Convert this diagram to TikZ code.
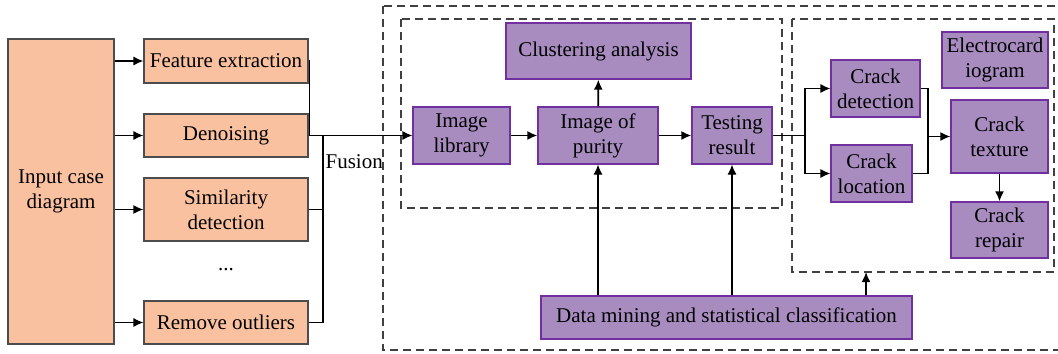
\documentclass[tikz,border=0pt]{standalone}
\usepackage{fontspec}
\setmainfont{Liberation Serif}
\usepackage{tikz}
\usepackage{xcolor}
\usetikzlibrary{arrows.meta}

\definecolor{peach}{RGB}{250,193,160}
\definecolor{lilac}{RGB}{168,140,192}
\definecolor{plum}{RGB}{112,48,160}

\tikzset{
  stage/.style={draw=black!70, fill=peach, line width=0.6pt, align=center, inner sep=1pt},
  proc/.style={draw=plum, fill=lilac, line width=0.6pt, align=center, inner sep=1pt},
  frame/.style={draw=black!75, dash pattern=on 4pt off 2.5pt, line width=0.6pt},
}

\begin{document}
\begin{tikzpicture}[>={Latex[length=5pt, width=4.5pt]}, x=0.5pt, y=-0.5pt, line width=0.6pt,
                    font=\fontsize{10.5}{12.5}\selectfont]
                    \useasboundingbox (0,0) rectangle (1058,353);
                    \clip (0,0) rectangle (1058,353);

                    % left part
                    \node[stage, minimum width=53pt, minimum height=152.5pt] (input) at (61,191.5) {Input case\\diagram};
                    \node[stage, minimum width=82pt, minimum height=22pt] (feat) at (226,61) {Feature extraction};
                    \node[stage, minimum width=82pt, minimum height=21.5pt] (denoise) at (226,135.5) {Denoising};
                    \node[stage, minimum width=82pt, minimum height=31.5pt] (simil) at (226,209.5) {Similarity\\detection};
                    \node (dots) at (226,270) {...};
                    \node[stage, minimum width=82pt, minimum height=21.5pt] (remove) at (226,322.5) {Remove outliers};

                    \draw[->] (input.east |- feat) -- (feat);
                    \draw[->] (input.east |- denoise) -- (denoise);
                    \draw[->, line width=0.8pt] (input.east |- simil) -- (simil);
                    \draw[->] (input.east |- remove) -- (remove);

                    \coordinate (fus) at (323,135.5);
                    \draw (feat.east) -- ++(1,0) |- (denoise.east);
                    \draw (simil.east) -| (fus);
                    \draw (remove.east) -| (fus);
                    \node[anchor=west, inner sep=0pt] (fuslbl) at (325,162) {Fusion};

                    % dashed frames
                    \draw[frame] (383,6) rectangle (1064,350);
                    \draw[frame] (401,19) rectangle (782,208);
                    \draw[frame] (792,19) rectangle (1054,272);
                    \coordinate (rboxbot) at (866,272);

                    % middle part
                    \node[proc, minimum width=92.5pt, minimum height=28pt] (cluster) at (598.5,51) {Clustering analysis};
                    \node[proc, minimum width=48.5pt, minimum height=28.5pt] (imglib) at (461.5,135.5) {Image\\library};
                    \node[proc, minimum width=60pt, minimum height=28.5pt] (purity) at (598,135.5) {Image of\\purity};
                    \node[proc, minimum width=40pt, minimum height=28.5pt] (testing) at (732,135.5) {Testing\\result};
                    \node[proc, minimum width=185.5pt, minimum height=21.5pt] (datamin) at (726.5,317.5) {Data mining and statistical classification};

                    \draw[->] (denoise.east) -- (imglib.west);
                    \draw[->, line width=0.9pt] (imglib) -- (purity);
                    \draw[->, line width=0.9pt] (purity) -- (testing);
                    \draw[->, line width=0.9pt] (purity) -- (cluster);
                    \draw[->] (datamin.north -| purity) -- (purity.south);
                    \draw[->] (datamin.north -| testing) -- (testing.south);
                    \draw[->, line width=0.8pt] (datamin.north -| rboxbot) -- (rboxbot);

                    % right part
                    \node[proc, minimum width=44.5pt, minimum height=28.5pt] (crackdet) at (875.5,88.5) {Crack\\detection};
                    \node[proc, minimum width=40.5pt, minimum height=28.5pt] (crackloc) at (871.5,173.5) {Crack\\location};
                    \node[proc, minimum width=53pt, minimum height=28pt] (ecg) at (995,60) {Electrocard\\iogram};
                    \node[proc, minimum width=48.5pt, minimum height=36.5pt] (texture) at (999.5,136.5) {Crack\\texture};
                    \node[proc, minimum width=48.5pt, minimum height=28pt] (repair) at (999.5,230) {Crack\\repair};

                    \coordinate (split) at (805,135.5);
                    \coordinate (merge) at (928,136.5);
                    \draw (testing.east) -- (split);
                    \draw[->] (split) |- (crackdet.west);
                    \draw[->] (split) |- (crackloc.west);
                    \draw (crackdet.east) -| (merge);
                    \draw (crackloc.east) -| (merge);
                    \draw[->, line width=0.8pt] (merge) -- (texture.west);
                    \draw[->, line width=0.9pt] (texture) -- (repair);
                \end{tikzpicture}
\end{document}
